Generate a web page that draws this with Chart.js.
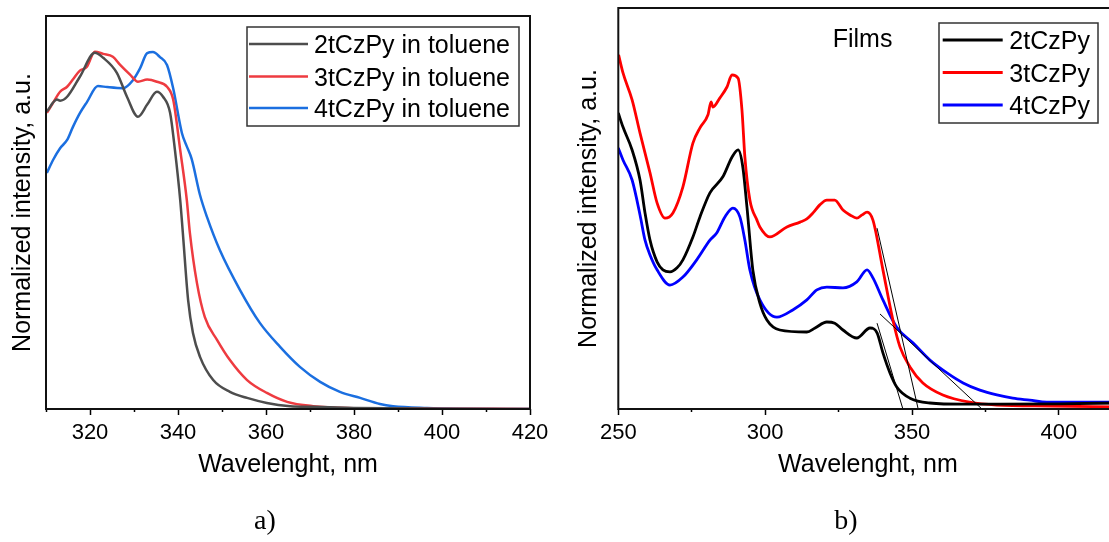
<!DOCTYPE html>
<html><head><meta charset="utf-8">
<script src="https://cdn.jsdelivr.net/npm/chart.js@4.4.1/dist/chart.umd.min.js"></script>
<style>
html,body{margin:0;padding:0;background:#fff;overflow:hidden;width:1109px;height:542px;}
canvas{position:absolute;top:0;}
#c1{left:0;} #c2{left:555px;}
</style></head><body>
<canvas id="c1" width="555" height="542"></canvas>
<canvas id="c2" width="575" height="542"></canvas>
<script>
// ---------- Panel a) : solutions in toluene ----------
const wl2tSol = [310.2, 312.5, 313.2, 314.8, 317.7, 321.1, 323.0, 326.1, 328.4, 330.9, 333.0, 335.2, 336.6, 338.2, 339.3, 340.5, 341.1, 342.3, 343.4, 345.0, 348.0, 351.8, 355.7, 360.2, 365.5, 370.7, 380, 400, 420];
const int2tSol = [0.833, 0.866, 0.863, 0.874, 0.930, 0.997, 0.983, 0.941, 0.874, 0.818, 0.852, 0.888, 0.874, 0.829, 0.725, 0.585, 0.493, 0.305, 0.213, 0.146, 0.081, 0.048, 0.031, 0.017, 0.008, 0.006, 0.003, 0.001, 0];

const wl3tSol = [310.2, 311.6, 313.2, 314.8, 316.1, 317.7, 319.3, 321.1, 323.0, 325.2, 326.8, 329.1, 330.9, 333.0, 335.2, 337.5, 338.9, 340.5, 342.0, 342.7, 344.3, 346.1, 348.9, 351.8, 355.7, 360.2, 364.8, 370.7, 378.4, 400, 420];
const int3tSol = [0.829, 0.857, 0.888, 0.902, 0.922, 0.947, 0.958, 1.0, 0.994, 0.986, 0.964, 0.936, 0.916, 0.922, 0.916, 0.902, 0.866, 0.725, 0.585, 0.493, 0.353, 0.257, 0.193, 0.137, 0.081, 0.045, 0.020, 0.008, 0.003, 0.001, 0];

const wl4tSol = [310.2, 311.6, 313.2, 314.8, 316.1, 317.7, 319.3, 321.8, 323.9, 327.5, 329.8, 331.4, 333.0, 334.3, 335.9, 337.5, 338.9, 340.9, 342.0, 343.1, 345.0, 346.6, 349.5, 354.1, 358.6, 363.2, 367.7, 372.3, 376.8, 381.4, 385.9, 388.9, 396.6, 404, 420];
const int4tSol = [0.661, 0.697, 0.730, 0.753, 0.789, 0.828, 0.859, 0.904, 0.901, 0.898, 0.921, 0.954, 0.996, 0.999, 0.985, 0.963, 0.898, 0.772, 0.735, 0.700, 0.599, 0.537, 0.445, 0.333, 0.241, 0.174, 0.118, 0.076, 0.048, 0.031, 0.014, 0.008, 0.003, 0.001, 0];

const labelsSol = ['2tCzPy in toluene', '3tCzPy in toluene', '4tCzPy in toluene'];
const majorTicksA = [320, 340, 360, 380, 400, 420];
const minorTicksA = [310, 330, 350, 370, 390, 410];

// ---------- Panel b) : films ----------
const wl2tFilm = [250.0, 251.6, 254.7, 257.4, 259.1, 260.8, 263.2, 265.2, 267.6, 270.0, 272.0, 275.4, 277.8, 281.2, 285.6, 288.7, 290.8, 292.4, 293.8, 295.8, 298.2, 300.6, 305.0, 314.2, 317.0, 321.0, 323.7, 326.5, 331.2, 335.7, 338.1, 340.1, 342.5, 344.8, 349.3, 356.1, 367.4, 380, 400, 420];
const int2tFilm = [0.738, 0.703, 0.646, 0.571, 0.489, 0.421, 0.367, 0.347, 0.342, 0.352, 0.372, 0.429, 0.479, 0.539, 0.579, 0.628, 0.646, 0.603, 0.504, 0.347, 0.264, 0.222, 0.197, 0.192, 0.202, 0.217, 0.214, 0.197, 0.177, 0.202, 0.190, 0.140, 0.090, 0.055, 0.027, 0.015, 0.012, 0.012, 0.013, 0.015];

const wl3tFilm = [250.1, 251.6, 254.7, 257.4, 260.8, 263.2, 265.9, 268.6, 272.0, 275.4, 277.8, 280.5, 281.6, 282.2, 284.6, 287.0, 288.7, 290.8, 292.1, 293.1, 294.8, 297.2, 298.2, 301.6, 307.4, 311.9, 314.2, 316.3, 318.6, 321.0, 323.7, 326.5, 328.9, 331.2, 333.0, 334.7, 336.7, 340.1, 343.5, 345.9, 349.3, 353.7, 360.5, 369.7, 378.9, 397, 420];
const int3tFilm = [0.883, 0.838, 0.771, 0.688, 0.589, 0.514, 0.476, 0.489, 0.554, 0.663, 0.701, 0.733, 0.766, 0.753, 0.776, 0.803, 0.833, 0.825, 0.746, 0.628, 0.521, 0.471, 0.454, 0.429, 0.454, 0.466, 0.474, 0.489, 0.509, 0.521, 0.521, 0.496, 0.484, 0.476, 0.484, 0.491, 0.471, 0.347, 0.222, 0.155, 0.105, 0.065, 0.035, 0.017, 0.010, 0.0075, 0.005];

const wl4tFilm = [250.0, 251.6, 254.7, 257.4, 259.1, 260.8, 263.2, 267.6, 272.0, 276.7, 281.2, 283.5, 286.3, 289.0, 291.4, 293.1, 294.8, 298.2, 304.0, 309.4, 314.2, 317.6, 321.0, 326.5, 331.2, 334.7, 336.7, 340.1, 344.8, 350.3, 356.1, 361.9, 367.4, 373.1, 378.9, 384.3, 390.1, 395.9, 406.4, 417, 420];
const int4tFilm = [0.651, 0.621, 0.571, 0.484, 0.421, 0.384, 0.347, 0.309, 0.329, 0.372, 0.421, 0.439, 0.479, 0.501, 0.479, 0.421, 0.347, 0.272, 0.229, 0.247, 0.272, 0.297, 0.304, 0.302, 0.317, 0.347, 0.327, 0.272, 0.204, 0.165, 0.122, 0.090, 0.065, 0.047, 0.035, 0.027, 0.022, 0.017, 0.017, 0.017, 0.017];

// onset tangent lines
const tan2tX = [338.1, 346.9], tan2tY = [0.214, 0];
const tan3tX = [338.1, 352.1], tan3tY = [0.451, 0];
const tan4tX = [339.1, 373.8], tan4tY = [0.237, 0];

const labelsFilm = ['2tCzPy', '3tCzPy', '4tCzPy'];
const majorTicksB = [250, 300, 350, 400];
const minorTicksB = [275, 325, 375];

// ---------- helpers ----------
const FONT = "'Liberation Sans', Arial, sans-serif";

function series(label, xs, ys, color, width) {
  return { label, data: xs.map((x, i) => ({ x, y: ys[i] })), borderColor: color, borderWidth: width,
    pointRadius: 0, fill: false, cubicInterpolationMode: 'monotone' };
}
function tangent(xs, ys) {
  return { label: '', data: xs.map((x, i) => ({ x, y: ys[i] })), borderColor: '#000', borderWidth: 1,
    pointRadius: 0, fill: false, tension: 0, order: -1, hideInLegend: true };
}

const framePlugin = {
  id: 'frame',
  afterDatasetsDraw(chart) {
    const { ctx, chartArea: a } = chart;
    ctx.save();
    ctx.strokeStyle = '#111'; ctx.lineWidth = 2;
    ctx.strokeRect(a.left, a.top, a.right - a.left, a.bottom - a.top);
    ctx.restore();
  }
};
const boxLegend = {
  id: 'boxLegend',
  afterDraw(chart, args, o) {
    if (!o || !o.rows) return;
    const ctx = chart.ctx;
    ctx.save();
    ctx.fillStyle = '#fff';
    ctx.fillRect(o.x, o.y, o.w, o.h);
    ctx.strokeStyle = '#333'; ctx.lineWidth = 1.5;
    ctx.strokeRect(o.x, o.y, o.w, o.h);
    ctx.font = o.font; ctx.textBaseline = 'alphabetic'; ctx.textAlign = 'left';
    chart.data.datasets.filter(d => !d.hideInLegend).forEach((d, i) => {
      const y = o.rows[i];
      ctx.strokeStyle = d.borderColor; ctx.lineWidth = d.borderWidth;
      ctx.beginPath(); ctx.moveTo(o.lineX1, y); ctx.lineTo(o.lineX2, y); ctx.stroke();
      ctx.fillStyle = '#000'; ctx.fillText(d.label, o.textX, y + 9);
    });
    ctx.restore();
  }
};
const textPlugin = {
  id: 'texts',
  afterDraw(chart, args, o) {
    if (!o || !o.items) return;
    const ctx = chart.ctx;
    ctx.save();
    o.items.forEach(t => {
      ctx.font = t.font; ctx.fillStyle = '#000';
      ctx.textAlign = t.align; ctx.textBaseline = t.baseline;
      ctx.fillText(t.text, t.x, t.y);
    });
    ctx.restore();
  }
};

function scales(min, max, ymax, major, minor, yTitlePad, yWidth) {
  return {
    xMinor: { type: 'linear', axis: 'x', position: 'bottom', weight: 0, min, max,
      afterBuildTicks: s => { s.ticks = minor.map(v => ({ value: v })); },
      afterFit: s => { s.height = 0; },
      ticks: { display: false },
      grid: { drawOnChartArea: false, tickLength: 3, tickWidth: 1.5, tickColor: '#000' },
      border: { display: false } },
    x: { type: 'linear', position: 'bottom', weight: 1, min, max,
      afterBuildTicks: s => { s.ticks = major.map(v => ({ value: v })); },
      afterFit: s => { s.height = 133; },
      ticks: { font: { family: FONT, size: 22 }, color: '#000', padding: 5, maxRotation: 0, autoSkip: false },
      grid: { drawOnChartArea: false, tickLength: 6, tickWidth: 1.5, tickColor: '#000' },
      border: { display: false },
      title: { display: true, text: 'Wavelenght, nm', color: '#000', font: { family: FONT, size: 25 }, padding: { top: 0, bottom: 62 } } },
    y: { type: 'linear', position: 'left', min: 0, max: ymax,
      afterFit: s => { s.width = yWidth; },
      ticks: { display: false }, grid: { display: false }, border: { display: false },
      title: { display: true, text: 'Normalized intensity, a.u.', color: '#000', font: { family: FONT, size: 25 }, padding: { top: yTitlePad, bottom: 0 } } }
  };
}

// ---------- Chart a) ----------
new Chart(document.getElementById('c1'), {
  type: 'line',
  data: { datasets: [
    series(labelsSol[0], wl2tSol, int2tSol, '#4d4d4d', 2.5),
    series(labelsSol[1], wl3tSol, int3tSol, '#ee3b40', 2.5),
    series(labelsSol[2], wl4tSol, int4tSol, '#1b6fe0', 2.5)
  ] },
  options: {
    responsive: false, animation: false, devicePixelRatio: 1,
    layout: { padding: { left: 0, top: 16, right: 25, bottom: 0 } },
    scales: scales(310, 420, 1.1, majorTicksA, minorTicksA, 8, 46),
    plugins: {
      legend: { display: false }, tooltip: { enabled: false },
      boxLegend: { x: 247, y: 27, w: 272, h: 99, rows: [44, 76.5, 108], lineX1: 249, lineX2: 308, textX: 314, font: '25px ' + FONT },
      texts: { items: [ { text: 'a)', x: 265, y: 522, font: '28px "Liberation Serif", "Times New Roman", serif', align: 'center', baseline: 'middle' } ] }
    }
  },
  plugins: [framePlugin, boxLegend, textPlugin]
});

// ---------- Chart b) ----------
new Chart(document.getElementById('c2'), {
  type: 'line',
  data: { datasets: [
    series(labelsFilm[0], wl2tFilm, int2tFilm, '#000000', 2.8),
    series(labelsFilm[1], wl3tFilm, int3tFilm, '#ff0000', 2.8),
    series(labelsFilm[2], wl4tFilm, int4tFilm, '#0000ff', 2.8),
    tangent(tan2tX, tan2tY), tangent(tan3tX, tan3tY), tangent(tan4tX, tan4tY)
  ] },
  options: {
    responsive: false, animation: false, devicePixelRatio: 1,
    layout: { padding: { left: 0, top: 8, right: 12.4, bottom: 0 } },
    scales: scales(250, 420, 1, majorTicksB, minorTicksB, 19.5, 63.3),
    plugins: {
      legend: { display: false }, tooltip: { enabled: false },
      boxLegend: { x: 384, y: 23, w: 159, h: 100, rows: [40, 72.5, 105], lineX1: 387.7, lineX2: 447.7, textX: 454.3, font: '25px ' + FONT },
      texts: { items: [
        { text: 'Films', x: 277.7, y: 47, font: '25px ' + FONT, align: 'left', baseline: 'alphabetic' },
        { text: 'b)', x: 291, y: 522, font: '28px "Liberation Serif", "Times New Roman", serif', align: 'center', baseline: 'middle' }
      ] }
    }
  },
  plugins: [framePlugin, boxLegend, textPlugin]
});
</script>
</body></html>
